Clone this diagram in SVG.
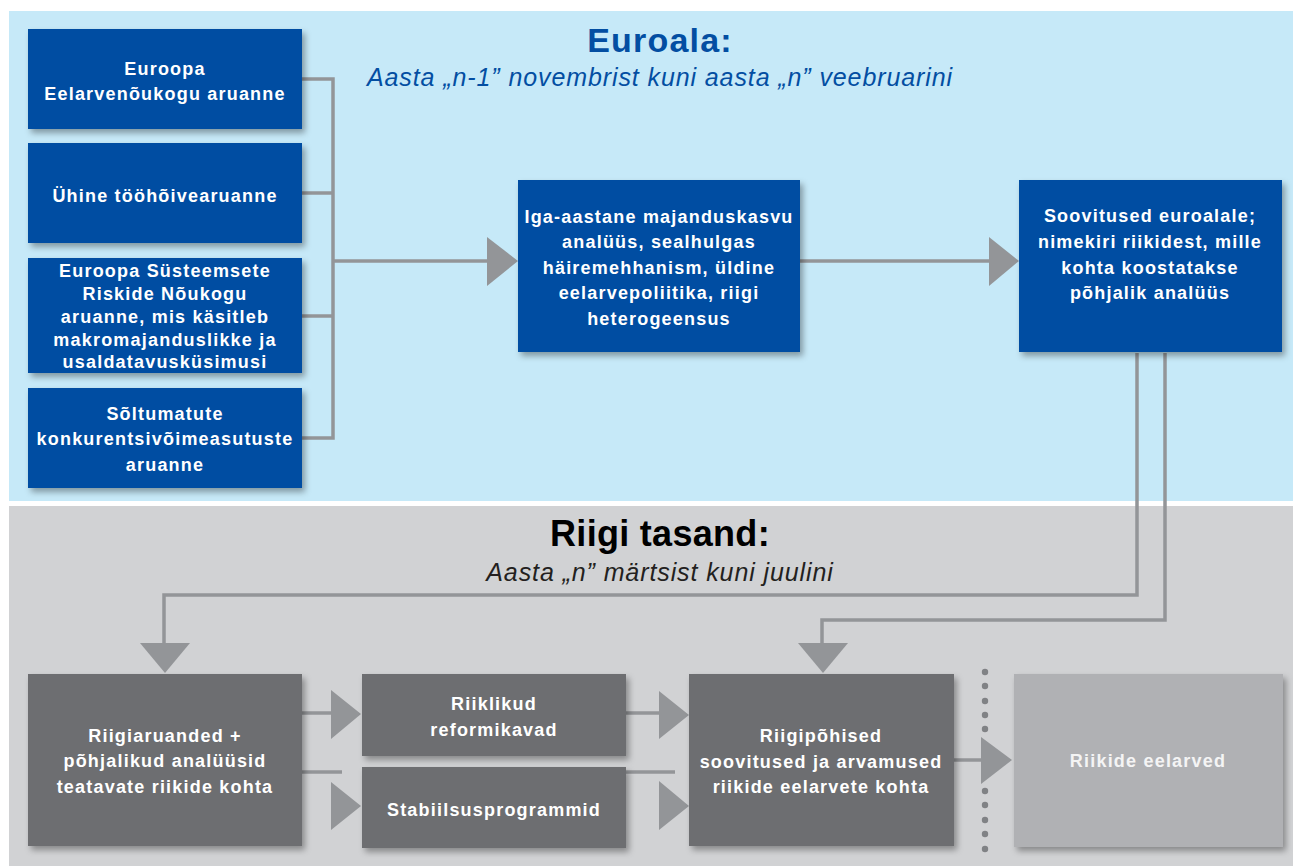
<svg xmlns="http://www.w3.org/2000/svg" width="1293" height="866" viewBox="0 0 1293 866">
<defs>
<style>
.blue{fill:#034ea2;filter:url(#sh)}
.dark{fill:#6d6e71;filter:url(#sh)}
.light{fill:#b0b1b4;filter:url(#sh)}
.t{font-family:"Liberation Sans",Arial,sans-serif;font-weight:bold;font-size:18px;letter-spacing:1.2px;fill:#fff;text-anchor:middle}
.tl{fill:#f4f4f4}
.ln{fill:none;stroke:#939598;stroke-width:3.5}
.ar{fill:#939598}
.dot{fill:#808285}
.h{font-family:"Liberation Sans",Arial,sans-serif;text-anchor:middle}
</style>
<filter id="sh" x="-10%" y="-10%" width="125%" height="130%">
<feDropShadow dx="3" dy="4" stdDeviation="3" flood-color="#000" flood-opacity="0.35"/>
</filter>
</defs>
<rect x="0" y="0" width="1293" height="866" fill="#fff"/>
<rect x="9" y="11" width="1284" height="490" fill="#c6e9f8"/>
<rect x="9" y="506" width="1284" height="360" fill="#d1d2d4"/>

<text class="h" x="660" y="52" font-weight="bold" font-size="34" letter-spacing="1.2" fill="#034ea2">Euroala:</text>
<text class="h" x="660" y="86" font-style="italic" font-size="25" letter-spacing="0.9" fill="#034ea2">Aasta „n-1” novembrist kuni aasta „n” veebruarini</text>
<text class="h" x="660" y="546" font-weight="bold" font-size="36" letter-spacing="0.3" fill="#000">Riigi tasand:</text>
<text class="h" x="660" y="581" font-style="italic" font-size="25" letter-spacing="0.9" fill="#231f20">Aasta „n” märtsist kuni juulini</text>

<g id="connectors">
<polyline class="ln" points="302,79 333,79 333,438 302,438"/>
<line class="ln" x1="302" y1="193" x2="333" y2="193"/>
<line class="ln" x1="302" y1="316" x2="333" y2="316"/>
<line class="ln" x1="333" y1="261" x2="490" y2="261"/>
<polygon class="ar" points="487,237 518,261 487,286"/>
<line class="ln" x1="800" y1="261" x2="992" y2="261"/>
<polygon class="ar" points="989,237 1019,261 989,286"/>
<polyline class="ln" points="1137,353 1137,595 164,595 164,645"/>
<polygon class="ar" points="140,643 190,643 165,673"/>
<polyline class="ln" points="1165,353 1165,620 822,620 822,645"/>
<polygon class="ar" points="798,643 848,643 823,673"/>
<line class="ln" x1="302" y1="713" x2="334" y2="713"/>
<polygon class="ar" points="331,690 361,714 331,739"/>
<line class="ln" x1="302" y1="772" x2="342" y2="772"/>
<polygon class="ar" points="331,782 361,806 331,830"/>
<line class="ln" x1="626" y1="713" x2="662" y2="713"/>
<polygon class="ar" points="659,691 689,715 659,739"/>
<line class="ln" x1="626" y1="772" x2="675" y2="772"/>
<polygon class="ar" points="659,781 689,806 659,830"/>
<line class="ln" x1="954" y1="760" x2="984" y2="760"/>
<polygon class="ar" points="981,737 1012,760 981,784"/>
<g class="dot">
<circle cx="985" cy="672" r="3.2"/><circle cx="985" cy="686" r="3.2"/><circle cx="985" cy="701" r="3.2"/><circle cx="985" cy="715" r="3.2"/><circle cx="985" cy="729" r="3.2"/>
<circle cx="985" cy="791" r="3.2"/><circle cx="985" cy="805" r="3.2"/><circle cx="985" cy="820" r="3.2"/><circle cx="985" cy="834" r="3.2"/><circle cx="985" cy="849" r="3.2"/>
</g>
</g>

<g id="n1"><rect class="blue" x="28" y="29" width="274" height="100"/>
<text class="t" x="165" y="75">Euroopa</text><text class="t" x="165" y="100">Eelarvenõukogu aruanne</text></g>
<g id="n2"><rect class="blue" x="28" y="143" width="274" height="100"/>
<text class="t" x="165" y="202">Ühine tööhõivearuanne</text></g>
<g id="n3"><rect class="blue" x="28" y="258" width="274" height="115"/>
<text class="t" x="165" y="277">Euroopa Süsteemsete</text><text class="t" x="165" y="300">Riskide Nõukogu</text><text class="t" x="165" y="323">aruanne, mis käsitleb</text><text class="t" x="165" y="346">makromajanduslikke ja</text><text class="t" x="165" y="368">usaldatavusküsimusi</text></g>
<g id="n4"><rect class="blue" x="28" y="388" width="274" height="100"/>
<text class="t" x="165" y="420">Sõltumatute</text><text class="t" x="165" y="445">konkurentsivõimeasutuste</text><text class="t" x="165" y="471">aruanne</text></g>
<g id="n5"><rect class="blue" x="518" y="180" width="282" height="172"/>
<text class="t" x="659" y="223">Iga-aastane majanduskasvu</text><text class="t" x="659" y="248">analüüs, sealhulgas</text><text class="t" x="659" y="274">häiremehhanism, üldine</text><text class="t" x="659" y="299">eelarvepoliitika, riigi</text><text class="t" x="659" y="325">heterogeensus</text></g>
<g id="n6"><rect class="blue" x="1019" y="180" width="263" height="172"/>
<text class="t" x="1150" y="222">Soovitused euroalale;</text><text class="t" x="1150" y="248">nimekiri riikidest, mille</text><text class="t" x="1150" y="274">kohta koostatakse</text><text class="t" x="1150" y="299">põhjalik analüüs</text></g>

<g id="n7"><rect class="dark" x="28" y="674" width="274" height="172"/>
<text class="t" x="165" y="742">Riigiaruanded +</text><text class="t" x="165" y="767">põhjalikud analüüsid</text><text class="t" x="165" y="793">teatavate riikide kohta</text></g>
<g id="n8"><rect class="dark" x="362" y="674" width="264" height="82"/>
<text class="t" x="494" y="710">Riiklikud</text><text class="t" x="494" y="736">reformikavad</text></g>
<g id="n9"><rect class="dark" x="362" y="767" width="264" height="81"/>
<text class="t" x="494" y="816">Stabiilsusprogrammid</text></g>
<g id="n10"><rect class="dark" x="689" y="674" width="265" height="172"/>
<text class="t" x="821" y="742">Riigipõhised</text><text class="t" x="821" y="768">soovitused ja arvamused</text><text class="t" x="821" y="793">riikide eelarvete kohta</text></g>
<g id="n11"><rect class="light" x="1014" y="674" width="269" height="173"/>
<text class="t tl" x="1148" y="767">Riikide eelarved</text></g>
</svg>
